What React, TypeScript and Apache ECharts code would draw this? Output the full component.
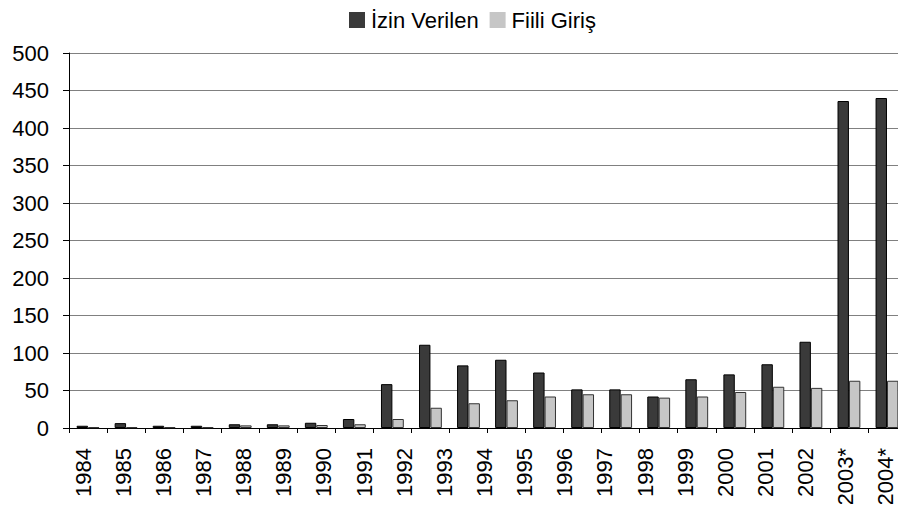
import React, { useEffect, useRef } from "react";
import * as echarts from "echarts";

const yearLabels = [
  "1984", "1985", "1986", "1987", "1988", "1989", "1990", "1991", "1992", "1993",
  "1994", "1995", "1996", "1997", "1998", "1999", "2000", "2001", "2002", "2003*", "2004*",
];
// The reference draws 22 bar pairs under 21 evenly spread labels.
const izinVerilen = [3, 6.5, 3, 3, 5, 5, 7, 12, 58.5, 111, 83.5, 91, 74, 51.5, 51.5, 42, 65, 71.5, 85, 115, 436, 440];
const fiiliGiris = [1, 1, 1, 1, 3.5, 3.5, 4, 5, 12, 27, 33, 37, 42, 45, 45, 40.5, 42, 48, 55, 53.5, 63, 63];
const yTicks = { min: 0, max: 500, interval: 50 };

const FONT = "'Liberation Sans', Arial, sans-serif";

export default function App() {
  const ref = useRef<HTMLDivElement>(null);
  useEffect(() => {
    if (!ref.current) return;
    const chart = echarts.init(ref.current, undefined, { renderer: "svg" });
    const barKeys = izinVerilen.map((_, i) => "b" + i);
    chart.setOption({
      animation: false,
      backgroundColor: "#ffffff",
      textStyle: { fontFamily: FONT },
      legend: {
        top: 4,
        left: 344,
        icon: "rect",
        itemWidth: 16,
        itemHeight: 16,
        itemGap: 11,
        itemStyle: { borderWidth: 0 },
        textStyle: { fontFamily: FONT, fontSize: 22, color: "#000", padding: [0, 0, 0, 1] },
        data: ["İzin Verilen", "Fiili Giriş"],
      },
      grid: [
        { left: 69, right: -8, top: 53, bottom: 84, containLabel: false },
        { left: 63, right: -11, top: 53, bottom: 84, containLabel: false },
      ],
      xAxis: [
        {
          type: "category",
          gridIndex: 0,
          data: barKeys,
          position: "bottom",
          boundaryGap: true,
          axisLine: { show: true, lineStyle: { color: "#000", width: 1 } },
          axisTick: { show: true, length: 5, lineStyle: { color: "#000" } },
          axisLabel: { show: false },
          splitLine: { show: false },
        },
        {
          type: "category",
          gridIndex: 1,
          data: yearLabels,
          position: "bottom",
          boundaryGap: true,
          axisLine: { show: false },
          axisTick: { show: false },
          axisLabel: {
            show: true,
            interval: 0,
            rotate: 90,
            margin: 20,
            fontSize: 22,
            color: "#000",
            fontFamily: FONT,
          },
          splitLine: { show: false },
        },
      ],
      yAxis: [
        {
          type: "value",
          gridIndex: 0,
          min: yTicks.min,
          max: yTicks.max,
          interval: yTicks.interval,
          axisLine: { show: true, lineStyle: { color: "#000", width: 1 } },
          axisTick: { show: true, length: 6, lineStyle: { color: "#000" } },
          axisLabel: { margin: 20, fontSize: 22, color: "#000", fontFamily: FONT },
          splitLine: { show: true, lineStyle: { color: "#808080", width: 1 } },
        },
        {
          type: "value",
          gridIndex: 1,
          min: yTicks.min,
          max: yTicks.max,
          show: false,
          splitLine: { show: false },
        },
      ],
      series: [
        {
          name: "İzin Verilen",
          type: "bar",
          xAxisIndex: 0,
          yAxisIndex: 0,
          data: izinVerilen,
          barGap: "0%",
          barCategoryGap: "40%",
          itemStyle: { color: "#3a3a3a", borderColor: "#000", borderWidth: 1 },
        },
        {
          name: "Fiili Giriş",
          type: "bar",
          xAxisIndex: 0,
          yAxisIndex: 0,
          data: fiiliGiris,
          barGap: "0%",
          barCategoryGap: "40%",
          itemStyle: { color: "#c6c6c6", borderColor: "#333", borderWidth: 1 },
        },
      ],
    });
    return () => chart.dispose();
  }, []);
  return <div ref={ref} style={{ width: 906, height: 512, margin: -8 }} />;
}
